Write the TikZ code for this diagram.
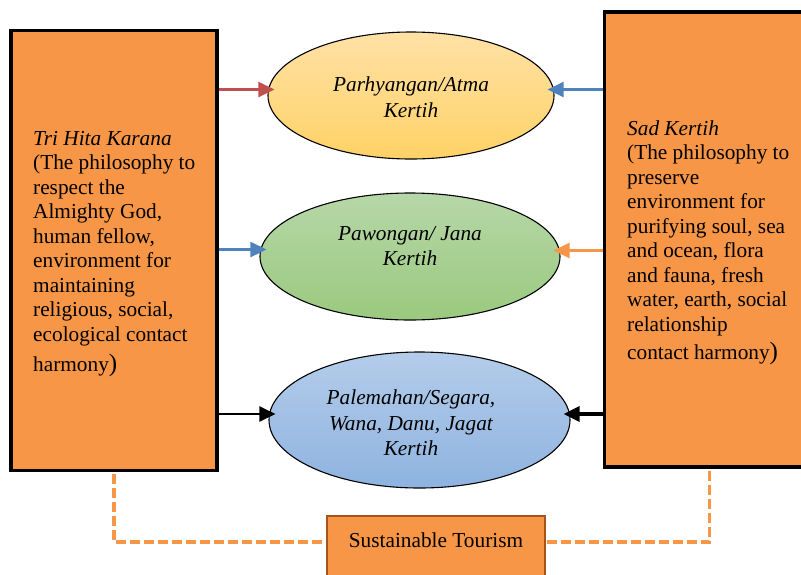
\documentclass[tikz,border=0pt]{standalone}
\usepackage{fontspec}
\setmainfont{Liberation Serif}
\usetikzlibrary{shapes.geometric,arrows.meta,calc}
\definecolor{boxorange}{HTML}{F79646}
\definecolor{boxbrown}{HTML}{A5541B}
\definecolor{arrred}{HTML}{C0504D}
\definecolor{arrblue}{HTML}{4F81BD}
\definecolor{goldtop}{HTML}{FFE1A6}
\definecolor{goldbot}{HTML}{FFD266}
\definecolor{greentop}{HTML}{B6D7A8}
\definecolor{greenbot}{HTML}{9BC97E}
\definecolor{bluetop}{HTML}{B4CCEA}
\definecolor{bluebot}{HTML}{8EB3E0}
\tikzset{
  bigbox/.style={draw=black, line width=3.5pt, fill=boxorange, rectangle, inner sep=0pt},
  bodytext/.style={font=\fontsize{21.3}{24.5}\selectfont, align=left, inner sep=0pt, anchor=west},
  oval/.style={ellipse, draw=black, line width=1.1pt, inner sep=0pt},
  ovaltext/.style={font=\fontsize{21.3}{25.5}\selectfont\itshape, align=center, inner sep=0pt},
  tourbox/.style={draw=boxbrown, line width=2pt, fill=boxorange, rectangle, inner xsep=0pt, inner ysep=0pt,
    minimum width=218pt, font=\fontsize{21.3}{24.5}\selectfont, text height=31pt, text depth=54pt},
  conn/.style={line width=2.6pt, -{Triangle[length=16pt,width=15pt]}, shorten >=-7pt},
  dashline/.style={draw=boxorange, line width=3.5pt, dash pattern=on 10pt off 4pt}
}
\begin{document}
\begin{tikzpicture}[x=1pt,y=-1pt]
\useasboundingbox (0,0) rectangle (801,574);
% big boxes
\node[bigbox, minimum width=206pt, minimum height=440pt] (lb) at (114,250.5) {};
\node[bigbox, minimum width=210pt, minimum height=455pt] (rb) at (709.5,239.5) {};
\node[bodytext] (lbt) at (33,254) {\textit{Tri Hita Karana}\\(The philosophy to\\respect the\\Almighty God,\\human fellow,\\environment for\\maintaining\\religious, social,\\ecological contact\\[6pt]harmony{\fontsize{25}{25}\selectfont)}};
\node[bodytext] (rbt) at (627,243) {\textit{Sad Kertih}\\(The philosophy to\\preserve\\environment for\\purifying soul, sea\\and ocean, flora\\and fauna, fresh\\water, earth, social\\relationship\\[4pt]contact harmony{\fontsize{25}{25}\selectfont)}};
% ellipses
\node[oval, minimum width=286pt, minimum height=127pt, top color=goldtop, bottom color=goldbot] (e1) at (411,95.5) {};
\node[oval, minimum width=300pt, minimum height=127pt, top color=greentop, bottom color=greenbot] (e2) at (410,256.5) {};
\node[oval, minimum width=301pt, minimum height=136pt, top color=bluetop, bottom color=bluebot] (e3) at (419.5,420) {};
\node[ovaltext] (e1t) at (411,97) {Parhyangan/Atma\\Kertih};
\node[ovaltext] (e2t) at (410,246) {Pawongan/ Jana\\Kertih};
\node[ovaltext] (e3t) at (411,423) {Palemahan/Segara,\\Wana, Danu, Jagat\\Kertih};
% arrows from left box
\draw[conn, arrred] ([yshift=6pt]lb.east |- e1.west) -- ([yshift=6pt]e1.west);
\draw[conn, arrblue] ([yshift=7pt]lb.east |- e2.west) -- ([yshift=7pt]e2.west);
\draw[conn, black, line width=2.2pt] ([yshift=6pt]lb.east |- e3.west) -- ([yshift=6pt]e3.west);
% arrows from right box
\draw[conn, arrblue] ([yshift=6pt]rb.west |- e1.east) -- ([yshift=6pt]e1.east);
\draw[conn, boxorange] ([yshift=6pt]rb.west |- e2.east) -- ([yshift=6pt]e2.east);
\draw[conn, black, line width=3.4pt] ([yshift=6pt]rb.west |- e3.east) -- ([yshift=6pt]e3.east);
% sustainable tourism
\node[tourbox, anchor=north] (st) at (436,515) {Sustainable Tourism};
\draw[dashline] ([yshift=-2pt]lb.south) |- ([yshift=-27pt]st.north west);
\draw[dashline] ([yshift=-2pt]rb.south) |- ([yshift=-27pt]st.north east);
\end{tikzpicture}
\end{document}
